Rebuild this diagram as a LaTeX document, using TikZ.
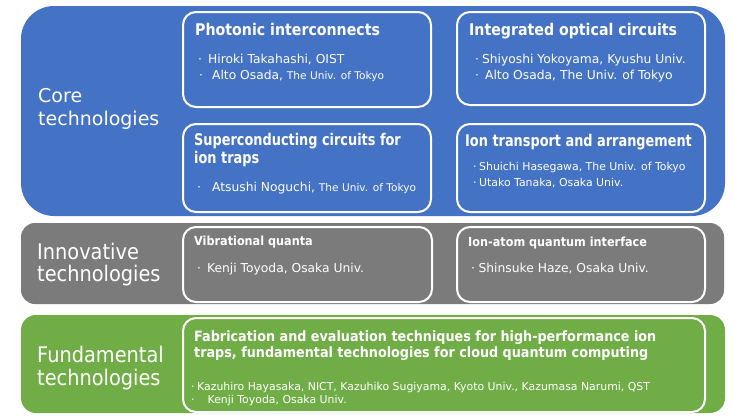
\documentclass[tikz,border=0pt]{standalone}
\usepackage{fontspec}
\setmainfont{DejaVu Sans}
\newfontfamily\narrowsf[FakeStretch=0.9]{DejaVu Sans}
\newfontfamily\titlesf[FakeStretch=0.88]{DejaVu Sans}
\newfontfamily\tightsf[FakeStretch=0.8]{DejaVu Sans}

\definecolor{coreblue}{HTML}{4472C4}
\definecolor{innogray}{HTML}{7B7B7B}
\definecolor{fundgreen}{HTML}{70AD47}

\begin{document}
\begin{tikzpicture}[x=1pt, y=-1pt,
    card/.style={draw=white, line width=2pt, rounded corners=13pt},
    txt/.style={text=white, anchor=base west, inner sep=0pt},
    biglabel/.style={txt, font=\fontsize{19}{23}\selectfont},
    narrowlabel/.style={txt, font=\narrowsf\fontsize{21.5}{25}\selectfont},
    ctitle/.style={txt, font=\titlesf\bfseries\fontsize{16.1}{19}\selectfont},
    stitle/.style={txt, font=\tightsf\bfseries\fontsize{16.1}{19}\selectfont},
    ntitle/.style={txt, font=\narrowsf\bfseries\fontsize{12.5}{15}\selectfont},
    ftitle/.style={txt, font=\narrowsf\bfseries\fontsize{14.2}{17}\selectfont},
    who/.style={txt, font=\fontsize{12.3}{15}\selectfont},
    whosmall/.style={txt, font=\fontsize{10.9}{13}\selectfont}]

    \useasboundingbox (0,0) rectangle (735,415);

    % three coloured bands
    \fill[coreblue, rounded corners=33pt] (21,6) rectangle (725,216);
    \fill[innogray, rounded corners=14pt] (21,223) rectangle (724,304);
    \fill[fundgreen, rounded corners=15pt] (21,315) rectangle (725,413);

    % white framed cards
    \draw[card] (183,12) rectangle (431,107);  % photonic
    \draw[card] (457,12) rectangle (705,105);  % optical circuits
    \draw[card] (183,124) rectangle (431,212); % superconducting
    \draw[card] (457,124) rectangle (705,212); % transport
    \draw[card] (183,227) rectangle (432,302); % vibrational
    \draw[card] (457,227) rectangle (705,302); % ion-atom
    \draw[card] (183,318) rectangle (705,412); % fabrication

    % band labels
    \node[biglabel] (core1) at (38,102) {Core};
    \node[biglabel] (core2) at (38,125) {technologies};
    \node[narrowlabel] (inno1) at (37,259) {Innovative};
    \node[narrowlabel] (inno2) at (37,281.5) {technologies};
    \node[narrowlabel] (fund1) at (37,362) {Fundamental};
    \node[narrowlabel] (fund2) at (37,385) {technologies};

    % card titles
    \node[ctitle] (photo) at (195,35) {Photonic interconnects};
    \node[ctitle] (optic) at (469,35.5) {Integrated optical circuits};
    \node[stitle] (supc1) at (194,145.7) {Superconducting circuits for};
    \node[stitle] (supc2) at (194,163.3) {ion traps};
    \node[stitle] (trans) at (465,146.7) {Ion transport and arrangement};
    \node[ntitle] (vibr) at (194,245.7) {Vibrational quanta};
    \node[ntitle] (iatom) at (468,246.7) {Ion-atom quantum interface};
    \node[ftitle] (fab1) at (194,341) {Fabrication and evaluation techniques for high-performance ion};
    \node[ftitle] (fab2) at (194,357) {traps, fundamental technologies for cloud quantum computing};

    % members
    \node[who] (photo1) at (198,63.3) {·\hspace{6pt}Hiroki Takahashi, OIST};
    \node[who] (photo2) at (199,79) {·\hspace{9pt}Alto Osada, {\fontsize{10.6}{12}\selectfont The Univ. of Tokyo}};
    \node[who] (optic1) at (475,63.5) {·\hspace{3pt}Shiyoshi Yokoyama, Kyushu Univ.};
    \node[who] (optic2) at (475,79.5) {·\hspace{6pt}Alto Osada, The Univ. of Tokyo};
    \node[who] (supc3) at (197,191) {·\hspace{11pt}Atsushi Noguchi, {\fontsize{10.6}{12}\selectfont The Univ. of Tokyo}};
    \node[whosmall] (trans1) at (473,170.5) {·\hspace{2.5pt}Shuichi Hasegawa, The Univ. of Tokyo};
    \node[whosmall] (trans2) at (473,186) {·\hspace{2.5pt}Utako Tanaka, Osaka Univ.};
    \node[who] (vibr1) at (197,272.3) {·\hspace{6pt}Kenji Toyoda, Osaka Univ.};
    \node[who] (iatom1) at (471,272.7) {·\hspace{3.5pt}Shinsuke Haze, Osaka Univ.};
    \node[whosmall] (fab3) at (191,390) {·\hspace{2.5pt}Kazuhiro Hayasaka, NICT, Kazuhiko Sugiyama, Kyoto Univ., Kazumasa Narumi, QST};
    \node[whosmall] (fab4) at (191,403) {·\hspace{13pt}Kenji Toyoda, Osaka Univ.};

\end{tikzpicture}
\end{document}
